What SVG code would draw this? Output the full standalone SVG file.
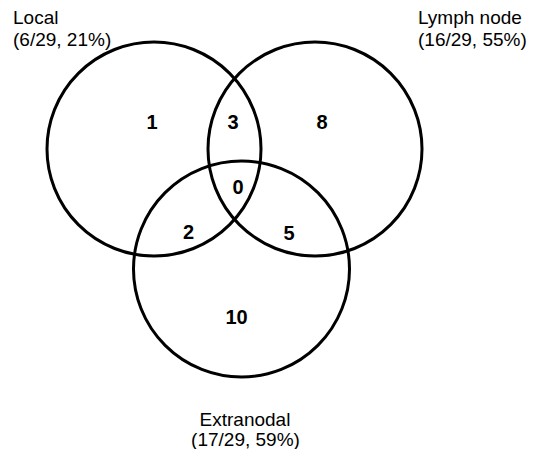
<svg xmlns="http://www.w3.org/2000/svg" width="535" height="449" viewBox="0 0 535 449">
<style>
.c{fill:none;stroke:#000;stroke-width:3}
.lbl{font-family:"Liberation Sans",Arial,sans-serif;font-size:19px;fill:#000}
.n{font-family:"Liberation Sans",Arial,sans-serif;font-size:20px;font-weight:bold;fill:#000;text-anchor:middle}
</style>
<rect width="535" height="449" fill="#fff"/>
<g id="local">
<circle class="c" cx="154" cy="149" r="107"/>
<text class="lbl" x="13" y="24">Local</text>
<text class="lbl" x="13" y="46">(6/29, 21%)</text>
</g>
<g id="lymph">
<circle class="c" cx="315" cy="149" r="107"/>
<text class="lbl" x="418" y="24">Lymph node</text>
<text class="lbl" x="418" y="46">(16/29, 55%)</text>
</g>
<g id="extranodal">
<circle class="c" cx="241.5" cy="269" r="108"/>
<text class="lbl" x="245" y="426" text-anchor="middle">Extranodal</text>
<text class="lbl" x="245.5" y="446" text-anchor="middle">(17/29, 59%)</text>
</g>
<g id="counts">
<text class="n" x="152" y="129">1</text>
<text class="n" x="233" y="129">3</text>
<text class="n" x="322" y="129">8</text>
<text class="n" x="238" y="194">0</text>
<text class="n" x="188.5" y="239">2</text>
<text class="n" x="289" y="240">5</text>
<text class="n" x="236.5" y="324">10</text>
</g>
</svg>
